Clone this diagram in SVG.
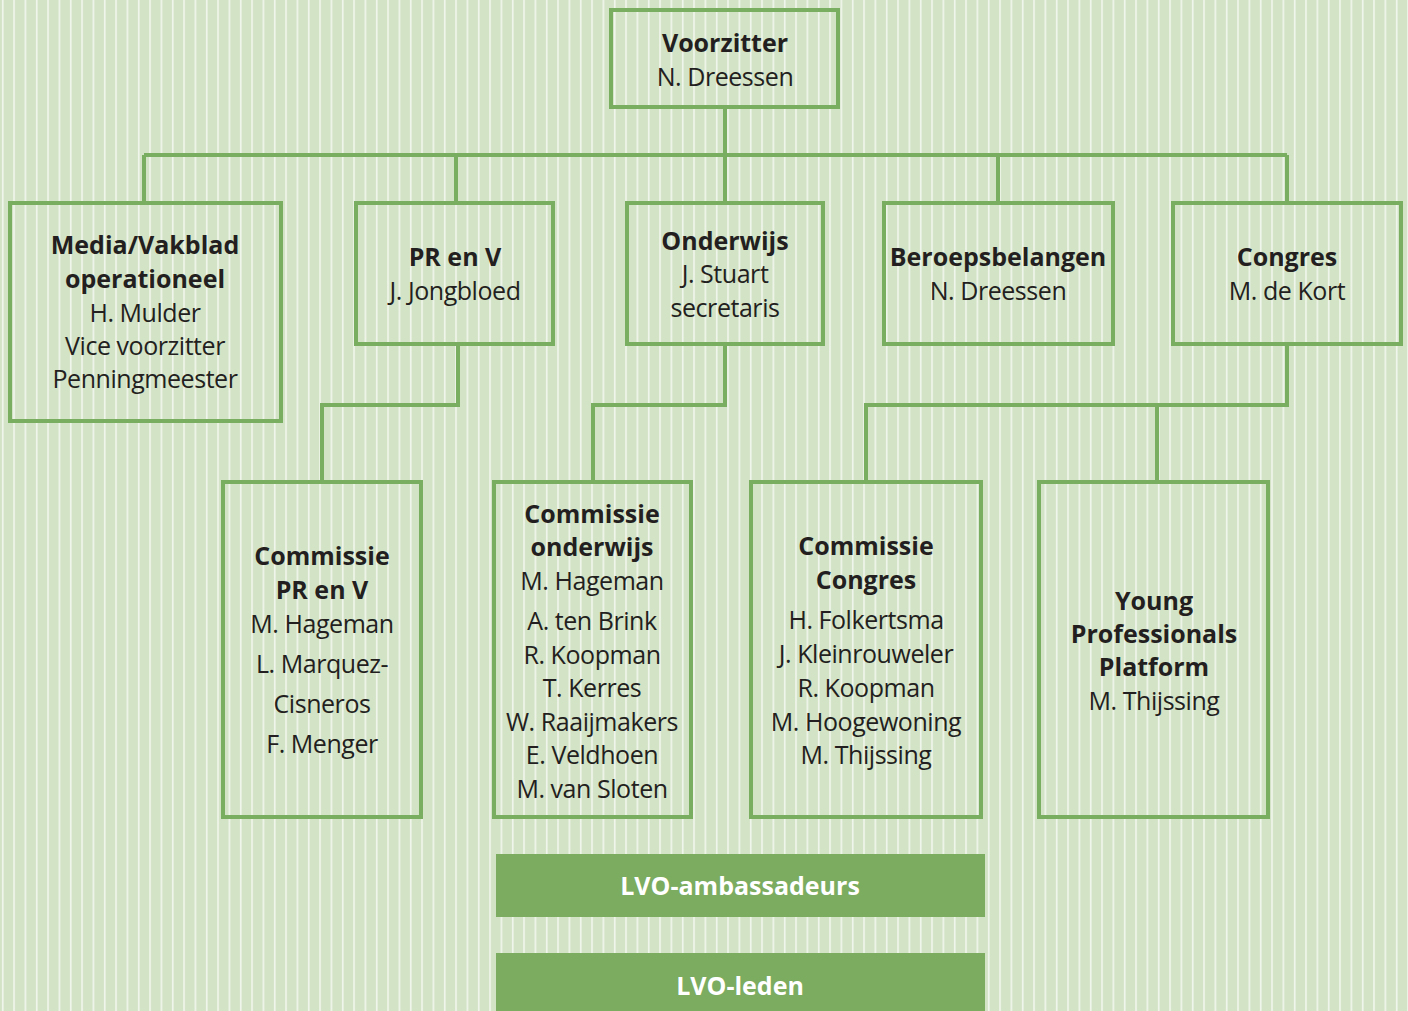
<svg xmlns="http://www.w3.org/2000/svg" width="1408" height="1011" viewBox="0 0 1408 1011">
<style>
.box{fill:none;stroke:#79ad5f;stroke-width:4}
.ln{fill:none;stroke:#79ad5f;stroke-width:4;stroke-linejoin:miter}
.bar{fill:#7bac5f}
text{font-family:"Open Sans","Noto Sans","Liberation Sans",sans-serif;fill:#231f20;text-anchor:middle;dominant-baseline:central}
.b{font-weight:700;font-size:25px}
.r{font-weight:400;font-size:25px;letter-spacing:-0.45px}
.w{font-weight:700;font-size:25px;fill:#ffffff}
</style>
<defs>
<pattern id="stripes" x="0" y="0" width="11.333" height="20" patternUnits="userSpaceOnUse">
<rect x="2.1" y="0" width="1.3" height="20" fill="#ffffff" fill-opacity="0.85"/>
</pattern>
</defs>
<rect x="0" y="0" width="1408" height="1011" fill="#d3e3c6"/>
<rect x="0" y="0" width="1408" height="1011" fill="url(#stripes)"/>
<g id="connectors">
<path class="ln" d="M725 109V155M144 155H1287M144 155V201M456 155V201M725 155V201M998 155V201M1287 155V201"/>
<path class="ln" d="M458 345V405H322V481"/>
<path class="ln" d="M725 345V405H593V481"/>
<path class="ln" d="M1287 345V405H866V481M1157 405V481"/>
</g>
<g id="voorzitter">
<rect class="box" x="611" y="10" width="227" height="97"/>
<text class="b" x="725" y="42">Voorzitter</text>
<text class="r" x="725" y="76">N. Dreessen</text>
</g>
<g id="media">
<rect class="box" x="10" y="203" width="271" height="218"/>
<text class="b" x="145" y="244">Media/Vakblad</text>
<text class="b" x="145" y="278">operationeel</text>
<text class="r" x="145" y="312">H. Mulder</text>
<text class="r" x="145" y="345">Vice voorzitter</text>
<text class="r" x="145" y="378">Penningmeester</text>
</g>
<g id="prenv">
<rect class="box" x="356" y="203" width="197" height="141"/>
<text class="b" x="455" y="256">PR en V</text>
<text class="r" x="455" y="290">J. Jongbloed</text>
</g>
<g id="onderwijs">
<rect class="box" x="627" y="203" width="196" height="141"/>
<text class="b" x="725" y="240">Onderwijs</text>
<text class="r" x="725" y="273">J. Stuart</text>
<text class="r" x="725" y="307">secretaris</text>
</g>
<g id="beroepsbelangen">
<rect class="box" x="884" y="203" width="229" height="141"/>
<text class="b" x="998" y="256">Beroepsbelangen</text>
<text class="r" x="998" y="290">N. Dreessen</text>
</g>
<g id="congres">
<rect class="box" x="1173" y="203" width="228" height="141"/>
<text class="b" x="1287" y="256">Congres</text>
<text class="r" x="1287" y="290">M. de Kort</text>
</g>
<g id="commissie-prenv">
<rect class="box" x="223" y="482" width="198" height="335"/>
<text class="b" x="322" y="555">Commissie</text>
<text class="b" x="322" y="589">PR en V</text>
<text class="r" x="322" y="623">M. Hageman</text>
<text class="r" x="322" y="663">L. Marquez-</text>
<text class="r" x="322" y="703">Cisneros</text>
<text class="r" x="322" y="743">F. Menger</text>
</g>
<g id="commissie-onderwijs">
<rect class="box" x="494" y="482" width="197" height="335"/>
<text class="b" x="592" y="513">Commissie</text>
<text class="b" x="592" y="546">onderwijs</text>
<text class="r" x="592" y="580">M. Hageman</text>
<text class="r" x="592" y="620">A. ten Brink</text>
<text class="r" x="592" y="654">R. Koopman</text>
<text class="r" x="592" y="687">T. Kerres</text>
<text class="r" x="592" y="721">W. Raaijmakers</text>
<text class="r" x="592" y="754">E. Veldhoen</text>
<text class="r" x="592" y="788">M. van Sloten</text>
</g>
<g id="commissie-congres">
<rect class="box" x="751" y="482" width="230" height="335"/>
<text class="b" x="866" y="545">Commissie</text>
<text class="b" x="866" y="579">Congres</text>
<text class="r" x="866" y="619">H. Folkertsma</text>
<text class="r" x="866" y="653">J. Kleinrouweler</text>
<text class="r" x="866" y="687">R. Koopman</text>
<text class="r" x="866" y="721">M. Hoogewoning</text>
<text class="r" x="866" y="754">M. Thijssing</text>
</g>
<g id="ypp">
<rect class="box" x="1039" y="482" width="229" height="335"/>
<text class="b" x="1154" y="600">Young</text>
<text class="b" x="1154" y="633">Professionals</text>
<text class="b" x="1154" y="666">Platform</text>
<text class="r" x="1154" y="700">M. Thijssing</text>
</g>
<g id="lvo-ambassadeurs">
<rect class="bar" x="496" y="854" width="489" height="63"/>
<text class="w" x="740" y="885">LVO-ambassadeurs</text>
</g>
<g id="lvo-leden">
<rect class="bar" x="496" y="953" width="489" height="58"/>
<text class="w" x="740" y="985">LVO-leden</text>
</g>
</svg>
